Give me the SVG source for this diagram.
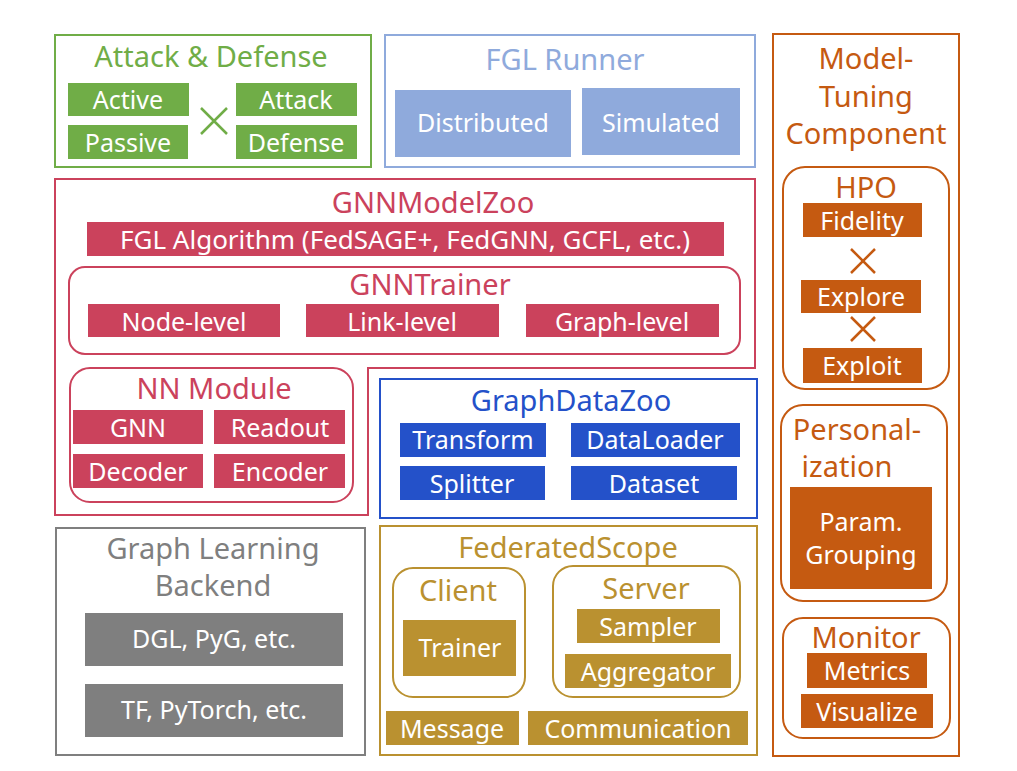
<svg xmlns="http://www.w3.org/2000/svg" width="1017" height="771" viewBox="0 0 1017 771">
<style>
text{font-family:"Noto Sans","Liberation Sans",sans-serif;text-anchor:middle}
.t{font-size:29px}
.l{font-size:25px;fill:#fff}
.frame{fill:none;stroke-width:2}
.g{stroke:#70AD47}.gf{fill:#70AD47}
.b{stroke:#8FAADC}.bf{fill:#8FAADC}
.o{stroke:#C55A11}.of{fill:#C55A11}
.r{stroke:#CB425C}.rf{fill:#CB425C}
.d{stroke:#2451C9}.df{fill:#2451C9}
.y{stroke:#BA9130}.yf{fill:#BA9130}
.k{stroke:#7F7F7F}.kf{fill:#7F7F7F}
.x{stroke-width:2.5;fill:none}
</style>
<rect width="1017" height="771" fill="#fff"/>

<g id="attack-defense">
<rect class="frame g" x="55" y="35" width="316" height="132"/>
<text class="t gf" x="211" y="67">Attack &amp; Defense</text>
<rect class="gf" x="68" y="83" width="121" height="33"/><text class="l" x="128" y="109">Active</text>
<rect class="gf" x="68" y="125" width="120" height="34"/><text class="l" x="128" y="152">Passive</text>
<rect class="gf" x="236" y="83" width="121" height="33"/><text class="l" x="296" y="109">Attack</text>
<rect class="gf" x="236" y="125" width="121" height="34"/><text class="l" x="296" y="152">Defense</text>
<path class="x g" d="M201 108 L227 134 M227 108 L201 134"/>
</g>

<g id="fgl-runner">
<rect class="frame b" x="385" y="35" width="370" height="132"/>
<text class="t bf" x="565" y="70">FGL Runner</text>
<rect class="bf" x="395" y="90" width="176" height="67"/><text class="l" x="483" y="132">Distributed</text>
<rect class="bf" x="582" y="88" width="158" height="67"/><text class="l" x="661" y="132">Simulated</text>
</g>

<g id="model-tuning">
<rect class="frame o" x="773" y="34" width="186" height="722"/>
<text class="t of" x="866" y="69">Model-</text>
<text class="t of" x="866" y="107">Tuning</text>
<text class="t of" x="866" y="144">Component</text>
<g id="hpo">
<rect class="frame o" x="783" y="167" width="166" height="222" rx="22"/>
<text class="t of" x="866" y="198">HPO</text>
<rect class="of" x="803" y="203" width="119" height="34"/><text class="l" x="862" y="230">Fidelity</text>
<path class="x o" d="M851 249 L875 273 M875 249 L851 273"/>
<rect class="of" x="801" y="280" width="120" height="33"/><text class="l" x="861" y="306">Explore</text>
<path class="x o" d="M851 317 L875 341 M875 317 L851 341"/>
<rect class="of" x="803" y="348" width="119" height="35"/><text class="l" x="862" y="375">Exploit</text>
</g>
<g id="personalization">
<rect class="frame o" x="781" y="405" width="166" height="196" rx="22"/>
<text class="t of" x="857" y="440">Personal-</text>
<text class="t of" x="847" y="477">ization</text>
<rect class="of" x="790" y="487" width="142" height="102"/>
<text class="l" x="861" y="531">Param.</text>
<text class="l" x="861" y="564">Grouping</text>
</g>
<g id="monitor">
<rect class="frame o" x="783" y="618" width="167" height="120" rx="20"/>
<text class="t of" x="866" y="648">Monitor</text>
<rect class="of" x="807" y="653" width="120" height="35"/><text class="l" x="867" y="680">Metrics</text>
<rect class="of" x="801" y="694" width="132" height="34"/><text class="l" x="867" y="721">Visualize</text>
</g>
</g>

<g id="gnn-model-zoo">
<path class="frame r" d="M55 179 H755 V368 H368 V515 H55 Z"/>
<text class="t rf" x="433" y="213">GNNModelZoo</text>
<rect class="rf" x="87" y="222" width="637" height="34"/><text class="l" x="405" y="249" style="font-size:26px">FGL Algorithm (FedSAGE+, FedGNN, GCFL, etc.)</text>
<g id="gnn-trainer">
<rect class="frame r" x="69" y="267" width="671" height="87" rx="16"/>
<text class="t rf" x="430" y="295">GNNTrainer</text>
<rect class="rf" x="88" y="304" width="192" height="33"/><text class="l" x="184" y="331">Node-level</text>
<rect class="rf" x="306" y="304" width="193" height="33"/><text class="l" x="402" y="331">Link-level</text>
<rect class="rf" x="526" y="304" width="193" height="33"/><text class="l" x="622" y="331">Graph-level</text>
</g>
<g id="nn-module">
<rect class="frame r" x="70" y="368" width="283" height="134" rx="20"/>
<text class="t rf" x="214" y="399">NN Module</text>
<rect class="rf" x="73" y="410" width="130" height="34"/><text class="l" x="138" y="437">GNN</text>
<rect class="rf" x="214" y="410" width="131" height="34"/><text class="l" x="280" y="437">Readout</text>
<rect class="rf" x="73" y="454" width="130" height="34"/><text class="l" x="138" y="481">Decoder</text>
<rect class="rf" x="214" y="454" width="131" height="34"/><text class="l" x="280" y="481">Encoder</text>
</g>
</g>

<g id="graph-data-zoo">
<rect class="frame d" x="380" y="379" width="377" height="139"/>
<text class="t df" x="571" y="411">GraphDataZoo</text>
<rect class="df" x="400" y="423" width="146" height="34"/><text class="l" x="473" y="449">Transform</text>
<rect class="df" x="571" y="423" width="169" height="34"/><text class="l" x="655" y="449">DataLoader</text>
<rect class="df" x="400" y="466" width="145" height="34"/><text class="l" x="472" y="493">Splitter</text>
<rect class="df" x="571" y="466" width="166" height="34"/><text class="l" x="654" y="493">Dataset</text>
</g>

<g id="graph-learning-backend">
<rect class="frame k" x="56" y="528" width="309" height="227"/>
<text class="t kf" x="213" y="559">Graph Learning</text>
<text class="t kf" x="213" y="596">Backend</text>
<rect class="kf" x="85" y="613" width="258" height="53"/><text class="l" x="214" y="648">DGL, PyG, etc.</text>
<rect class="kf" x="85" y="684" width="258" height="53"/><text class="l" x="214" y="719">TF, PyTorch, etc.</text>
</g>

<g id="federated-scope">
<rect class="frame y" x="380" y="526" width="377" height="229"/>
<text class="t yf" x="568" y="558">FederatedScope</text>
<g id="client">
<rect class="frame y" x="393" y="568" width="132" height="129" rx="20"/>
<text class="t yf" x="458" y="601">Client</text>
<rect class="yf" x="403" y="620" width="113" height="56"/><text class="l" x="460" y="657">Trainer</text>
</g>
<g id="server">
<rect class="frame y" x="553" y="566" width="187" height="131" rx="20"/>
<text class="t yf" x="646" y="599">Server</text>
<rect class="yf" x="577" y="609" width="143" height="34"/><text class="l" x="648" y="636">Sampler</text>
<rect class="yf" x="565" y="654" width="166" height="34"/><text class="l" x="648" y="681">Aggregator</text>
</g>
<rect class="yf" x="386" y="711" width="133" height="34"/><text class="l" x="452" y="738">Message</text>
<rect class="yf" x="528" y="711" width="220" height="34"/><text class="l" x="638" y="738">Communication</text>
</g>

<g id="connectors"></g>
</svg>
